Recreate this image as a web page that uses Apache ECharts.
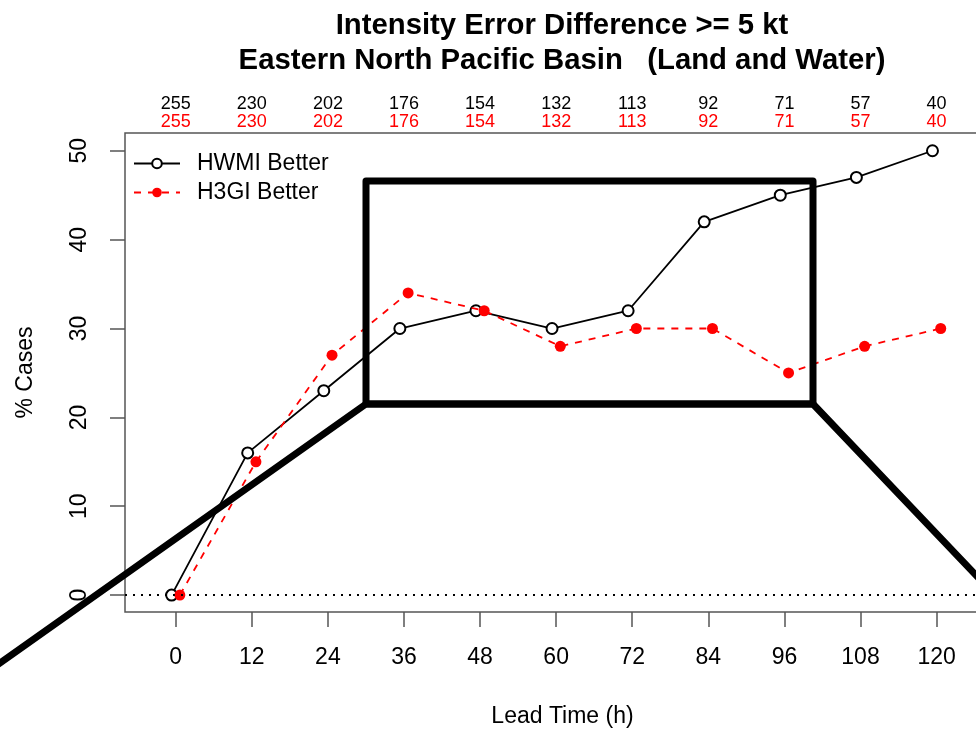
<!DOCTYPE html>
<html>
<head>
<meta charset="utf-8">
<script src="https://cdn.jsdelivr.net/npm/echarts@6/dist/echarts.min.js"></script>
<style>
  html, body { margin: 0; padding: 0; background: #fff; }
  #chart { width: 976px; height: 730px; }
</style>
</head>
<body>
<div id="chart"></div>
<script>
// Lead times (h) and the share of cases where each model did better
const leadTimes = [0, 12, 24, 36, 48, 60, 72, 84, 96, 108, 120];
const hwmiBetter = [0, 16, 23, 30, 32, 30, 32, 42, 45, 47, 50];
const h3giBetter = [0, 15, 27, 34, 32, 28, 30, 30, 25, 28, 30];
// Number of cases at each lead time (same sample for both models)
const hwmiCounts = [255, 230, 202, 176, 154, 132, 113, 92, 71, 57, 40];
const h3giCounts = [255, 230, 202, 176, 154, 132, 113, 92, 71, 57, 40];
const yTicks = [0, 10, 20, 30, 40, 50];

const FONT = '"Liberation Sans", Arial, sans-serif';
const AXIS_GREY = '#555';
const DODGE = 0.65; // small horizontal shift so the two markers don't sit on top of each other

const chart = echarts.init(document.getElementById('chart'));

function countFormatter(counts) {
  return function (v) {
    const i = leadTimes.indexOf(Math.round(v));
    return i >= 0 ? String(counts[i]) : '';
  };
}

function topAxis(counts, color, offset) {
  return {
    type: 'value', position: 'top', min: -8, max: 130, offset: offset,
    axisLine: { show: false, onZero: false }, axisTick: { show: false }, splitLine: { show: false },
    axisLabel: {
      customValues: leadTimes, formatter: countFormatter(counts),
      color: color, fontSize: 18, fontFamily: FONT, margin: 2
    }
  };
}

const option = {
  backgroundColor: '#fff',
  animation: false,
  title: {
    text: 'Intensity Error Difference >= 5 kt\nEastern North Pacific Basin   (Land and Water)',
    left: 557, top: 3, textAlign: 'center',
    textStyle: { fontFamily: FONT, fontWeight: 'bold', fontSize: 29.3, lineHeight: 35, color: '#000' }
  },
  legend: {
    orient: 'vertical', left: 128, top: 147, itemWidth: 46, itemHeight: 12, itemGap: 6,
    textStyle: { fontFamily: FONT, fontSize: 23, color: '#000', padding: [0, 0, 0, 12] },
    data: ['HWMI Better', 'H3GI Better']
  },
  grid: {
    left: 125, width: 875, top: 133, bottom: 118,
    outerBoundsMode: 'none',
    show: true, borderColor: AXIS_GREY, borderWidth: 1.5, backgroundColor: 'transparent'
  },
  xAxis: [
    {
      type: 'value', min: -8, max: 130,
      name: 'Lead Time (h)', nameLocation: 'middle', nameGap: 93,
      nameTextStyle: { fontFamily: FONT, fontSize: 23, color: '#000' },
      axisLine: { show: false, onZero: false },
      axisTick: { customValues: leadTimes, length: 15, lineStyle: { color: AXIS_GREY, width: 1.5 } },
      axisLabel: { customValues: leadTimes, fontFamily: FONT, fontSize: 23, color: '#000', margin: 34 },
      splitLine: { show: false }
    },
    topAxis(h3giCounts, '#ff0000', 0),
    topAxis(hwmiCounts, '#000', 18)
  ],
  yAxis: {
    type: 'value', min: -1.9, max: 52,
    name: '% Cases', nameLocation: 'middle', nameGap: 88, nameRotate: 90,
    nameTextStyle: { fontFamily: FONT, fontSize: 23, color: '#000' },
    axisLine: { show: false, onZero: false },
    axisTick: { customValues: yTicks, length: 15, lineStyle: { color: AXIS_GREY, width: 1.5 } },
    axisLabel: { customValues: yTicks, rotate: 90, fontFamily: FONT, fontSize: 23, color: '#000', margin: 34 },
    splitLine: { show: false }
  },
  series: [
    {
      name: 'HWMI Better', type: 'line',
      data: leadTimes.map((t, i) => [t - DODGE, hwmiBetter[i]]),
      symbol: 'emptyCircle', symbolSize: 11,
      lineStyle: { color: '#000', width: 1.8 },
      itemStyle: { color: '#000', borderColor: '#000', borderWidth: 1.8 },
      z: 3,
      markLine: {
        silent: true, symbol: 'none', label: { show: false },
        lineStyle: { color: '#000', type: [2, 6], width: 1.8 },
        data: [{ yAxis: 0 }]
      }
    },
    {
      name: 'H3GI Better', type: 'line',
      data: leadTimes.map((t, i) => [t + DODGE, h3giBetter[i]]),
      symbol: 'circle', symbolSize: 11,
      lineStyle: { color: '#ff0000', width: 1.8, type: [7, 7] },
      itemStyle: { color: '#ff0000' },
      z: 4
    }
  ],
  // Heavy black callout frame drawn over the plot
  graphic: [
    {
      type: 'polyline', z: 100,
      shape: { points: [[-10, 670], [366, 404], [813, 404], [990, 590]] },
      style: { stroke: '#000', lineWidth: 7, fill: null, lineJoin: 'round' }
    },
    {
      type: 'rect', z: 100,
      shape: { x: 366, y: 181, width: 447, height: 223 },
      style: { stroke: '#000', lineWidth: 7, fill: null, lineJoin: 'round' }
    }
  ]
};

chart.setOption(option);
</script>
</body>
</html>
